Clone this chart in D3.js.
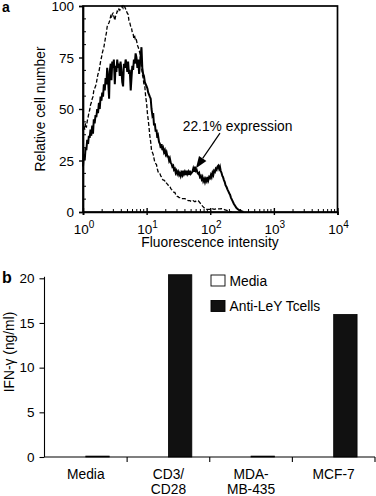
<!DOCTYPE html>
<html><head><meta charset="utf-8">
<script src="https://cdn.jsdelivr.net/npm/d3@7"></script>
<style>
body{margin:0;background:#fff}
svg{display:block}
text{font-family:"Liberation Sans",Arial,Helvetica,sans-serif;fill:#000}
</style>
</head><body>
<svg id="chart" width="376" height="496"></svg>
<script>
// ---------- Panel a: flow cytometry histogram ----------
// log10(fluorescence intensity) and relative cell number, anti-LeY stained (solid)
const stainedLog = [0.0,0.013,0.027,0.04,0.053,0.066,0.08,0.092,0.105,0.118,0.13,0.145,0.157,0.17,0.183,0.197,0.21,0.223,0.236,0.25,0.263,0.276,0.29,0.302,0.315,0.328,0.342,0.355,0.368,0.38,0.395,0.41,0.42,0.435,0.447,0.46,0.472,0.485,0.5,0.512,0.525,0.538,0.551,0.565,0.578,0.59,0.604,0.617,0.63,0.643,0.657,0.67,0.683,0.696,0.709,0.722,0.735,0.75,0.762,0.775,0.788,0.8,0.814,0.827,0.84,0.855,0.868,0.882,0.895,0.907,0.919,0.932,0.945,0.958,0.972,0.985,1.0,1.012,1.024,1.038,1.05,1.064,1.077,1.09,1.103,1.116,1.129,1.142,1.155,1.168,1.18,1.195,1.21,1.222,1.235,1.248,1.26,1.273,1.287,1.3,1.313,1.326,1.34,1.353,1.365,1.378,1.39,1.404,1.418,1.43,1.444,1.457,1.47,1.483,1.496,1.51,1.523,1.536,1.55,1.562,1.575,1.588,1.6,1.614,1.627,1.64,1.654,1.667,1.68,1.694,1.707,1.72,1.733,1.746,1.76,1.773,1.786,1.8,1.812,1.825,1.838,1.852,1.865,1.878,1.89,1.904,1.917,1.93,1.944,1.957,1.97,1.983,1.996,2.01,2.022,2.035,2.048,2.06,2.074,2.087,2.1,2.113,2.126,2.14,2.152,2.164,2.177,2.19,2.2,2.215,2.228,2.24,2.258,2.27,2.285,2.3,2.31,2.325,2.34,2.355,2.37,2.39,2.41,2.43,2.45,2.47,2.5,2.52];
const stainedCount = [22,28,25,31,30,35,33,37,36,40,37,42,38,45,43,47,46,50,48,53,50,56,54,58,56,62,59,65,62,70,64,55,68,72,64,73,70,74,62,71,68,74,70,72,66,73,69,63,61,72,70,74,72,68,73,67,69,59,65,71,69,74,72,77,75,70,74,67,72,76,80,70,67,66,63,62,61,60,58,57,56,55,50,47,48,42,43,39,40,36,37,34,33,31,33,30,31,29,30,28,29,27,27,25,26,24,23.5,22,22.5,20.5,21,19,20,18.5,19.5,18,19,17.5,19,18,20,18.5,19.5,18,20,18.5,19.5,18,20,18.5,19,19.5,21,19.5,22,20,20.5,19,18.5,19,17,17.5,16,17,15,16,14.5,16,15,17,15.5,17,16.5,18,17,19,18,20,19.5,21,20.5,22,22.5,21,22,20,19,17.5,17,15.5,14.5,13,12,11,10,9,8.5,7,6,5,4,3,2,1.5,1,0.6,0.3,0];
// control (dashed)
const controlLog = [0.0,0.013,0.027,0.04,0.053,0.066,0.08,0.092,0.105,0.118,0.13,0.145,0.157,0.17,0.183,0.197,0.21,0.223,0.236,0.25,0.263,0.276,0.29,0.302,0.315,0.328,0.342,0.355,0.368,0.38,0.395,0.41,0.42,0.435,0.447,0.46,0.472,0.485,0.5,0.512,0.525,0.538,0.551,0.565,0.578,0.59,0.604,0.617,0.63,0.643,0.657,0.67,0.683,0.696,0.709,0.722,0.735,0.75,0.762,0.775,0.788,0.8,0.814,0.827,0.84,0.855,0.868,0.882,0.895,0.907,0.919,0.932,0.945,0.958,0.972,0.985,1.0,1.012,1.024,1.038,1.05,1.064,1.077,1.09,1.103,1.116,1.129,1.142,1.155,1.168,1.18,1.195,1.21,1.222,1.235,1.248,1.26,1.273,1.287,1.3,1.313,1.326,1.34,1.353,1.365,1.378,1.39,1.404,1.418,1.43,1.444,1.457,1.47,1.483,1.496,1.51,1.523,1.55,1.575,1.6,1.627,1.654,1.68,1.707,1.733,1.76,1.786,1.81,1.838,1.865,1.89,1.917,1.944,1.97,2.0,2.03,2.06,2.1,2.14,2.18,2.22,2.26,2.3,2.34];
const controlCount = [39.5,42,40,43,41,44,46,48,49.5,52,53,55,56,59,60,61,62.5,65,67,68,70.5,73,75,77,78.6,80,82.5,85,87,90,91,92,93,95,94,96,96.5,95,93,95,96,97.5,97,98.5,98,99,99.5,100,99,100,99.5,98.5,97.5,96.5,96,93,92,90,89.5,87,86.5,84,85,83,83.5,81,80,78.6,77,74,70.5,67,65,62,60.8,56,52.7,48,45,41,37,34,30,29,28,26,24,23.5,23,21,19.5,18.5,18.5,17.5,17,16,15.5,15.5,15,14,14,13.5,13,12.5,12.5,11.5,11,10.5,10,9.5,9.5,8.5,8,7.5,7.5,7,7,6.5,6.5,6.5,6,5.5,5.5,5,5.5,5,5.5,5.5,4.5,3.3,2.5,1.6,1.3,1.3,1.3,1.6,1.3,1.6,1.5,1.6,1.2,0.8,0.4,0];
const histYTicks = [0,25,50,75,100];
const histXTicks = [1,10,100,1000,10000];
const annotationText = "22.1% expression";

// ---------- Panel b: IFN-gamma bars ----------
const categories = ["Media","CD3/CD28","MDA-MB-435","MCF-7"];
const categoryLines = [["Media"],["CD3/","CD28"],["MDA-","MB-435"],["MCF-7"]];
const seriesNames = ["Media","Anti-LeY Tcells"];
const mediaValues = [0,0,0,0];
const tcellValues = [0.1,20.4,0.1,15.95];
const barYTicks = [0,5,10,15,20];

const svg = d3.select("#chart");

// ===== Panel a =====
const ax = d3.scaleLog().domain([1,10000]).range([83,337.5]);
const ay = d3.scaleLinear().domain([0,100]).range([212,6]);
const ga = svg.append("g");

// frame
ga.append("rect").attr("x",ax(1)).attr("y",ay(100)).attr("width",ax(10000)-ax(1)).attr("height",ay(0)-ay(100))
  .attr("fill","none").attr("stroke","#000").attr("stroke-width",1.7);

// minor ticks (inward)
const minorX = [];
for (let d=0; d<4; d++) for (let m=2; m<=9; m++) minorX.push(m*Math.pow(10,d));
ga.selectAll(".mx").data(minorX).join("line")
  .attr("x1",d=>ax(d)).attr("x2",d=>ax(d)).attr("y1",ay(0)).attr("y2",ay(0)-3)
  .attr("stroke","#000").attr("stroke-width",1);
const minorY = d3.range(0,100,6.25).filter(v=>v%25!==0);
ga.selectAll(".my").data(minorY).join("line")
  .attr("x1",ax(1)).attr("x2",ax(1)+3).attr("y1",d=>ay(d)).attr("y2",d=>ay(d))
  .attr("stroke","#000").attr("stroke-width",1);

// y axis
const ayAxis = ga.append("g").attr("transform",`translate(${ax(1)},0)`)
  .call(d3.axisLeft(ay).tickValues(histYTicks).tickSize(4).tickPadding(5).tickFormat(d3.format("d")));
ayAxis.select(".domain").attr("stroke-width",1.7);
ayAxis.selectAll(".tick line").attr("stroke-width",1.4);
ayAxis.selectAll("text").attr("font-size",13.5).attr("font-family",null).attr("dy","0.36em");

// x axis
const axAxis = ga.append("g").attr("transform",`translate(0,${ay(0)})`)
  .call(d3.axisBottom(ax).tickValues(histXTicks).tickSize(3).tickFormat(""));
axAxis.select(".domain").attr("stroke-width",1.7);
axAxis.selectAll(".tick line").attr("stroke-width",1.4).attr("y1",-4);
const xl = ga.selectAll(".xl").data(histXTicks).join("text")
  .attr("x",d=>ax(d)+1).attr("y",233.5).attr("text-anchor","middle").attr("font-size",13.5);
xl.append("tspan").text("10");
xl.append("tspan").attr("dy",-6).attr("font-size",10).text(d=>Math.round(Math.log10(d)));

// axis titles
ga.append("text").attr("x",210).attr("y",247).attr("text-anchor","middle").attr("font-size",13.8).text("Fluorescence intensity");
ga.append("text").attr("transform",`translate(45,109) rotate(-90)`).attr("text-anchor","middle").attr("font-size",13.8).text("Relative cell number");
ga.append("text").attr("x",2).attr("y",11.5).attr("font-size",14).attr("font-weight","bold").text("a");

// curves
const line = d3.line().x(d=>ax(Math.pow(10,d[0]))).y(d=>ay(d[1]));
ga.append("path").datum(controlLog.map((v,i)=>[v,controlCount[i]]))
  .attr("d",line).attr("fill","none").attr("stroke","#000").attr("stroke-width",1.3)
  .attr("stroke-dasharray","4,2");
ga.append("path").datum(stainedLog.map((v,i)=>[v,stainedCount[i]]))
  .attr("d",line).attr("fill","none").attr("stroke","#000").attr("stroke-width",2)
  .attr("stroke-linejoin","miter");

// annotation
ga.append("text").attr("x",ax(Math.pow(10,2.43))).attr("y",130.5).attr("text-anchor","middle")
  .attr("font-size",13.8).text(annotationText);
const tip = [ax(Math.pow(10,1.775)), ay(21.2)];
const tail = [ax(Math.pow(10,2.153)), ay(38.3)];
const ang = Math.atan2(tip[1]-tail[1], tip[0]-tail[0]);
const hl = 12, hw = 4.5;
const base = [tip[0]-hl*Math.cos(ang), tip[1]-hl*Math.sin(ang)];
ga.append("line").attr("x1",tail[0]).attr("y1",tail[1]).attr("x2",base[0]).attr("y2",base[1])
  .attr("stroke","#000").attr("stroke-width",1.2);
ga.append("path").attr("d",d3.line()([
  tip,
  [base[0]+hw*Math.sin(ang), base[1]-hw*Math.cos(ang)],
  [base[0]-hw*Math.sin(ang), base[1]+hw*Math.cos(ang)]
])+"Z").attr("fill","#000");

// ===== Panel b =====
const bx = d3.scaleBand().domain(categories).range([44.5,375]).paddingInner(0).paddingOuter(0);
const bs = d3.scaleBand().domain(seriesNames).range([0,bx.bandwidth()]).paddingInner(0).paddingOuter(0.767);
const by = d3.scaleLinear().domain([0,20]).range([457,278.3]);
const gb = svg.append("g");

const rows = categories.map((c,i)=>({cat:c, vals:[mediaValues[i], tcellValues[i]]}));
gb.selectAll(".grp").data(rows).join("g").attr("transform",d=>`translate(${bx(d.cat)},0)`)
  .selectAll("rect").data(d=>d.vals.map((v,j)=>({s:seriesNames[j], v}))).join("rect")
  .attr("x",d=>bs(d.s)).attr("width",bs.bandwidth())
  .attr("y",d=>by(d.v)).attr("height",d=>by(0)-by(d.v))
  .attr("fill",d=>d.s===seriesNames[0]?"#fff":"#111")
  .attr("stroke",d=>d.s===seriesNames[0]?"none":"#000").attr("stroke-width",0.8);

const byAxis = gb.append("g").attr("transform",`translate(44.5,0)`)
  .call(d3.axisLeft(by).tickValues(barYTicks).tickSize(5).tickSizeOuter(0).tickPadding(5));
byAxis.select(".domain").attr("d",`M0,${by(0)}V${by(20)-1.5}`).attr("stroke-width",1.1);
byAxis.selectAll(".tick line").attr("stroke-width",1.1);
byAxis.selectAll("text").attr("font-size",13.5).attr("font-family",null);

// x axis with boundary ticks
gb.append("line").attr("x1",44.5).attr("x2",375).attr("y1",by(0)).attr("y2",by(0)).attr("stroke","#000").attr("stroke-width",1.1);
const bounds = categories.slice(1).map(c=>bx(c)).concat([bx(categories[3])+bx.bandwidth()]);
gb.selectAll(".bt").data(bounds).join("line")
  .attr("x1",d=>d).attr("x2",d=>d).attr("y1",by(0)).attr("y2",by(0)+5).attr("stroke","#000").attr("stroke-width",1.1);

gb.selectAll(".cl").data(categories).join("text")
  .attr("x",d=>bx(d)+bx.bandwidth()/2).attr("y",478.5).attr("text-anchor","middle").attr("font-size",13.8)
  .selectAll("tspan").data((d,i)=>categoryLines[i]).join("tspan")
  .attr("x",function(){return this.parentNode.getAttribute("x");})
  .attr("dy",(d,i)=>i===0?0:15.5).text(d=>d);

gb.append("text").attr("transform",`translate(14,352) rotate(-90)`).attr("text-anchor","middle").attr("font-size",13.8).text("IFN-γ (ng/ml)");
gb.append("text").attr("x",2).attr("y",283).attr("font-size",16).attr("font-weight","bold").text("b");

// legend
const lg = gb.append("g");
seriesNames.forEach((s,i)=>{
  const y = 275 + i*25.5;
  lg.append("rect").attr("x",211).attr("y",y).attr("width",14).attr("height",11)
    .attr("fill",i===0?"#fff":"#111").attr("stroke","#000").attr("stroke-width",0.9);
  lg.append("text").attr("x",229.5).attr("y",y+10.5).attr("font-size",13.8).text(s);
});
</script>
</body></html>
